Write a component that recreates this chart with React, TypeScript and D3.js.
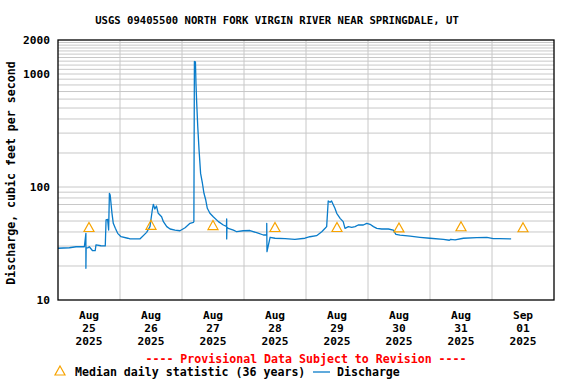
import * as d3 from 'd3';

// discharge readings: hours since Aug 25 00:00, cubic feet per second
const dischargeHours = [
  0, 4.4, 7.0, 10.2, 10.8, 10.8, 10.9, 11.5, 12.1, 13.4, 14.4, 14.7, 16.6, 18.3, 18.6, 19.2, 19.6, 19.9, 20.2, 20.9,
  21.4, 22.2, 23.1, 24.4, 27.0, 27.9, 31.7, 34.3, 35.6, 36.5, 36.9, 37.5, 38.1, 38.8, 40.1, 40.8, 42.1, 43.4, 45.3,
  47.2, 49.2, 51.1, 52.4, 52.6, 52.8, 53.2, 53.4, 53.7, 54.1, 54.6, 55.2, 55.9, 56.5, 57.2, 57.8, 58.8, 60.1, 62.1,
  64.0, 65.2, 65.3, 65.3, 65.4, 65.9, 67.9, 69.2, 71.7, 74.3, 76.9, 79.5, 80.8, 80.8, 80.9, 82.1, 84.0, 87.9, 91.7,
  95.6, 97.5, 100.1, 102.1, 103.4, 104.0, 104.6, 105.3, 105.9, 106.6, 107.2, 107.9, 109.2, 110.4, 111.1, 112.4,
  113.7, 115.0, 116.2, 118.2, 119.5, 120.8, 122.1, 123.4, 125.3, 127.9, 129.8, 130.8, 132.4, 136.3, 140.1, 144.0,
  149.2, 151.5, 152.0, 153.7, 156.9, 162.1, 166.0, 168.5, 171.0, 175.4,
];
const dischargeValues = [
  28.7, 29.0, 29.6, 29.6, 38.9, 19.1, 28.9, 28.9, 29.6, 27.3, 27.3, 30.7, 30.2, 30.1, 51.1, 51.7, 41.6, 88.0, 85.0, 58.5,
  47.7, 43.1, 38.9, 36.3, 35.2, 34.7, 34.7, 39.7, 44.6, 62.6, 70.3, 63.9, 67.9, 58.5, 54.6, 49.3, 44.6, 42.5, 41.6,
  41.0, 43.6, 47.7, 48.7, 49.4, 1290, 1280, 827, 550, 342, 213, 132, 108, 88.0, 76.7, 64.8, 58.5, 54.6, 49.4,
  46.1, 44.7, 52.1, 34.7, 44.0, 43.1, 41.6, 40.2, 41.0, 41.2, 39.4, 37.6, 37.6, 47.7, 26.8, 35.9, 35.2, 34.9, 34.4,
  35.2, 36.3, 37.1, 40.2, 43.1, 44.6, 75.2, 73.2, 75.2, 69.3, 64.8, 58.5, 52.8, 49.4, 43.1, 44.6,
  44.0, 44.6, 46.1, 46.1, 47.7, 46.8, 44.6, 43.1, 42.5, 42.5, 41.6, 38.1, 37.5, 36.7, 35.9, 35.2,
  34.4, 33.8, 34.4, 34.0, 35.2, 35.6, 35.9, 34.9, 34.9, 34.7,
];

// median daily statistic, at noon of each day
const medianHours = [12, 36, 60, 84, 108, 132, 156, 180];
const medianValues = [43.8, 45.8, 45.6, 43.8, 43.8, 43.4, 44.5, 43.6];

const dayMonths = ['Aug', 'Aug', 'Aug', 'Aug', 'Aug', 'Aug', 'Aug', 'Sep'];
const dayNumbers = ['25', '26', '27', '28', '29', '30', '31', '01'];
const dayYears = ['2025', '2025', '2025', '2025', '2025', '2025', '2025', '2025'];

const yTickValues = [10, 100, 1000, 2000];
const yGridValues = [
  20, 30, 40, 50, 60, 70, 80, 90, 100, 200, 300, 400, 500, 600, 700, 800, 900, 1000,
  1100, 1200, 1300, 1400, 1500, 1600, 1700, 1800, 1900,
];

const title = 'USGS 09405500 NORTH FORK VIRGIN RIVER NEAR SPRINGDALE, UT';

export default function App() {
  const width = 576;
  const height = 384;
  const left = 58;
  const right = 554;
  const top = 40;
  const bottom = 300;
  const font = '"DejaVu Sans Mono", monospace';
  const blue = '#0a7cca';
  const orange = '#f7a300';

  const x = d3.scaleLinear().domain([0, 192]).range([left, right]);
  const y = d3.scaleLog().domain([10, 2000]).range([bottom, top]);

  const points = dischargeHours.map((h, i) => [h, dischargeValues[i]] as [number, number]);
  const line = d3.line<[number, number]>()
    .x(d => x(d[0]))
    .y(d => y(d[1]));

  const dayLines = d3.range(24, 192, 24);
  const tri = (cx: number, cy: number) => `M${cx},${cy - 5}L${cx + 5},${cy + 4}L${cx - 5},${cy + 4}Z`;

  return (
    <svg width={width} height={height} style={{ position: 'absolute', left: 0, top: 0, background: '#fff' }}>
      <text x={277} y={24} textAnchor="middle" fontFamily={font} fontWeight="bold" fontSize={10.6}>{title}</text>

      {/* grid */}
      {yGridValues.map(v => (
        <line key={'h' + v} x1={left} x2={right} y1={y(v)} y2={y(v)} stroke="#c8c8c8" strokeWidth={1} />
      ))}
      {dayLines.map(h => (
        <line key={'v' + h} x1={x(h)} x2={x(h)} y1={top} y2={bottom} stroke="#c8c8c8" strokeWidth={1} />
      ))}

      {/* discharge */}
      <path d={line(points) ?? ''} fill="none" stroke={blue} strokeWidth={1.3} strokeLinejoin="round" />

      {/* medians */}
      {medianHours.map((h, i) => (
        <path key={'m' + h} d={tri(x(h), y(medianValues[i]))} fill="none" stroke={orange} strokeWidth={1.2} />
      ))}

      <rect x={left} y={top} width={right - left} height={bottom - top} fill="none" stroke="#000" strokeWidth={1.3} />

      {/* y axis */}
      {yTickValues.map(v => (
        <text key={'yt' + v} x={50} y={y(v)} dy="0.36em" textAnchor="end" fontFamily={font} fontWeight="bold" fontSize={11.2}>{v}</text>
      ))}
      <text transform={`translate(15,${(top + bottom) / 2 + 3}) rotate(-90)`} textAnchor="middle" fontFamily={font} fontWeight="bold" fontSize={11.6}>
        Discharge, cubic feet per second
      </text>

      {/* x axis */}
      {dayMonths.map((m, i) => {
        const cx = x(12 + 24 * i);
        return (
          <g key={'xl' + i} fontFamily={font} fontWeight="bold" fontSize={11.2} textAnchor="middle">
            <text x={cx} y={319}>{m}</text>
            <text x={cx} y={332}>{dayNumbers[i]}</text>
            <text x={cx} y={345}>{dayYears[i]}</text>
          </g>
        );
      })}

      <text x={(left + right) / 2} y={363} textAnchor="middle" fontFamily={font} fontWeight="bold" fontSize={11.6} fill="#ff0000">
        ---- Provisional Data Subject to Revision ----
      </text>

      {/* legend */}
      <path d={tri(60, 371)} fill="none" stroke={orange} strokeWidth={1.2} />
      <text x={75} y={376} fontFamily={font} fontWeight="bold" fontSize={11.6}>Median daily statistic (36 years)</text>
      <line x1={313} x2={330} y1={372} y2={372} stroke={blue} strokeWidth={1.3} />
      <text x={337} y={376} fontFamily={font} fontWeight="bold" fontSize={11.6}>Discharge</text>
    </svg>
  );
}
